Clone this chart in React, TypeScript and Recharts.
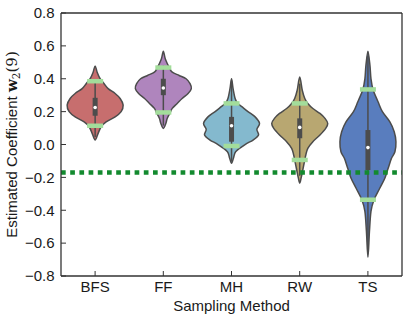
import React from "react";
import { Bar, ComposedChart, ReferenceLine, XAxis, YAxis } from "recharts";

const methods = ["BFS", "FF", "MH", "RW", "TS"];
const yTicks = [-0.8, -0.6, -0.4, -0.2, 0, 0.2, 0.4, 0.6, 0.8];
const trueValue = -0.17;

// estimated density profile of each violin (value, relative density)
const bfsLevels = [0.478, 0.44, 0.4, 0.37, 0.34, 0.31, 0.28, 0.24, 0.2, 0.168, 0.138, 0.108, 0.068, 0.027];
const bfsDensity = [0, 2, 5, 9, 13, 20, 25, 28, 26, 20, 11, 6, 3, 0];
const ffLevels = [0.567, 0.52, 0.468, 0.44, 0.42, 0.4, 0.37, 0.34, 0.31, 0.28, 0.25, 0.22, 0.195, 0.16, 0.128, 0.098];
const ffDensity = [0, 2, 6, 9, 16, 23, 27, 28.3, 25, 19, 14, 9, 7, 4, 2.5, 0];
const mhLevels = [0.4, 0.34, 0.28, 0.25, 0.23, 0.2, 0.168, 0.128, 0.092, 0.058, 0.027, 0.007, -0.01, -0.044, -0.08, -0.114];
const mhDensity = [0, 1.5, 3.5, 6, 10, 16, 23, 27.3, 24.7, 26.3, 21, 15, 11, 4, 2, 0];
const rwLevels = [0.41, 0.33, 0.28, 0.25, 0.219, 0.189, 0.159, 0.128, 0.098, 0.058, 0.017, -0.023, -0.064, -0.094, -0.155, -0.2, -0.235];
const rwDensity = [0, 2.5, 5, 8, 13, 20, 25, 27.7, 25.7, 20, 13, 8, 6, 5, 3, 1.5, 0];
const tsLevels = [0.567, 0.48, 0.4, 0.335, 0.26, 0.2, 0.138, 0.078, 0.017, -0.044, -0.084, -0.145, -0.205, -0.266, -0.336, -0.407, -0.528, -0.686];
const tsDensity = [0, 2, 3, 5, 10, 14.3, 21.7, 26, 27.7, 26.7, 23.3, 20, 16.7, 11.7, 6, 3, 1.5, 0];

const q1 = [0.175, 0.3, 0.017, 0.038, -0.155];
const medians = [0.225, 0.344, 0.114, 0.104, -0.019];
const q3 = [0.284, 0.4, 0.168, 0.159, 0.088];
const whiskerLo = [0.045, 0.115, -0.104, -0.19, -0.65];
const whiskerHi = [0.39, 0.48, 0.39, 0.37, 0.54];
const lowerMarks = [0.114, 0.195, -0.009, -0.094, -0.336];
const upperMarks = [0.385, 0.468, 0.25, 0.25, 0.335];

const colors = ["#c76e6e", "#af85bd", "#84b9ce", "#b8a771", "#597dbe"];

const allLevels = [bfsLevels, ffLevels, mhLevels, rwLevels, tsLevels];
const allDensity = [bfsDensity, ffDensity, mhDensity, rwDensity, tsDensity];

const data = methods.map((name, i) => ({
  name,
  range: [allLevels[i][allLevels[i].length - 1], allLevels[i][0]],
  levels: allLevels[i],
  density: allDensity[i],
  q1: q1[i],
  median: medians[i],
  q3: q3[i],
  whiskerLo: whiskerLo[i],
  whiskerHi: whiskerHi[i],
  lower: lowerMarks[i],
  upper: upperMarks[i],
  color: colors[i],
}));

const FONT = "'Liberation Sans', Arial, sans-serif";
const INK = "#333333";
const EDGE = "#4c4c4c";

function closedCurve(pts: number[][]) {
  const n = pts.length;
  let d = `M${pts[0][0]},${pts[0][1]}`;
  for (let i = 0; i < n; i++) {
    const p0 = pts[(i - 1 + n) % n];
    const p1 = pts[i];
    const p2 = pts[(i + 1) % n];
    const p3 = pts[(i + 2) % n];
    const c1x = p1[0] + (p2[0] - p0[0]) / 6;
    const c1y = p1[1] + (p2[1] - p0[1]) / 6;
    const c2x = p2[0] - (p3[0] - p1[0]) / 6;
    const c2y = p2[1] - (p3[1] - p1[1]) / 6;
    d += ` C${c1x},${c1y} ${c2x},${c2y} ${p2[0]},${p2[1]}`;
  }
  return d + "Z";
}

function ViolinShape(props: any) {
  const { x, y, width, height, payload } = props;
  const [lo, hi] = payload.range;
  const top = Math.min(y, y + height);
  const k = Math.abs(height) / (hi - lo);
  const toY = (v: number) => top + (hi - v) * k;
  const cx = x + width / 2;
  const half = width / 2;
  const maxD = Math.max(...payload.density);
  const right = payload.levels.map((v: number, j: number) => [cx + (payload.density[j] / maxD) * half, toY(v)]);
  const left = payload.levels.map((v: number, j: number) => [cx - (payload.density[j] / maxD) * half, toY(v)]).reverse();
  const loop = [...right, ...left.slice(1, -1)];
  return (
    <g>
      <path d={closedCurve(loop)} fill={payload.color} stroke={EDGE} strokeWidth={1.5} />
      <line x1={cx} x2={cx} y1={toY(payload.whiskerHi)} y2={toY(payload.whiskerLo)} stroke={EDGE} strokeWidth={1.5} />
      <line x1={cx} x2={cx} y1={toY(payload.q3)} y2={toY(payload.q1)} stroke={EDGE} strokeWidth={5} />
      <circle cx={cx} cy={toY(payload.median)} r={1.8} fill="#ffffff" />
      <line x1={cx - 8} x2={cx + 8} y1={toY(payload.upper)} y2={toY(payload.upper)} stroke="#a3dd9b" strokeWidth={4.5} />
      <line x1={cx - 8} x2={cx + 8} y1={toY(payload.lower)} y2={toY(payload.lower)} stroke="#a3dd9b" strokeWidth={4.5} />
    </g>
  );
}

const fmt = (v: number) => v.toFixed(1).replace("-", "\u2212");

function YLabel(props: any) {
  const { viewBox } = props;
  const cy = viewBox.y + viewBox.height / 2;
  const bx = 17.3;
  return (
    <text
      x={bx}
      y={cy}
      transform={`rotate(-90, ${bx}, ${cy})`}
      textAnchor="middle"
      fontFamily={FONT}
      fontSize={15}
      fill="#1a1a1a"
    >
      Estimated Coefficient{" "}
      <tspan fontFamily="'DejaVu Serif', serif" fontWeight="bold">w</tspan>
      <tspan fontFamily="'DejaVu Serif', serif" fontSize={10.5} dy={3}>2</tspan>
      <tspan fontFamily="'DejaVu Serif', serif" dy={-3}>(9)</tspan>
    </text>
  );
}

function XLabel(props: any) {
  const { viewBox } = props;
  return (
    <text
      x={viewBox.x + viewBox.width / 2}
      y={310.5}
      textAnchor="middle"
      fontFamily={FONT}
      fontSize={15}
      fill="#1a1a1a"
    >
      Sampling Method
    </text>
  );
}

export default function App() {
  return (
    <div style={{ position: "absolute", left: 0, top: 0 }}>
      <ComposedChart
        width={407}
        height={320}
        data={data}
        margin={{ top: 13, right: 5, bottom: 0, left: 0 }}
        barCategoryGap="9%"
      >
        <XAxis
          xAxisId="b"
          dataKey="name"
          type="category"
          height={44}
          tickSize={-5}
          tickMargin={10.75}
          stroke={INK}
          tick={{ fontFamily: FONT, fontSize: 15, fill: "#1a1a1a" }}
          axisLine={{ stroke: INK, strokeWidth: 1.3 }}
          tickLine={{ stroke: INK }}
          label={{ content: XLabel }}
        />
        <XAxis
          xAxisId="t"
          dataKey="name"
          type="category"
          orientation="top"
          mirror
          tickSize={5}
          tick={false}
          stroke={INK}
          axisLine={{ stroke: INK, strokeWidth: 1.3 }}
        />
        <YAxis
          yAxisId="l"
          type="number"
          domain={[-0.8, 0.8]}
          ticks={yTicks}
          width={61}
          tickSize={-5}
          tickMargin={11.5}
          tickFormatter={fmt}
          stroke={INK}
          tick={{ fontFamily: FONT, fontSize: 15, fill: "#1a1a1a" }}
          axisLine={{ stroke: INK, strokeWidth: 1.3 }}
          label={{ content: YLabel }}
        />
        <YAxis
          yAxisId="r"
          type="number"
          orientation="right"
          mirror
          domain={[-0.8, 0.8]}
          ticks={yTicks}
          tickSize={5}
          tick={false}
          stroke={INK}
          axisLine={{ stroke: INK, strokeWidth: 1.3 }}
        />
        <Bar
          xAxisId="b"
          yAxisId="l"
          dataKey="range"
          shape={ViolinShape}
          isAnimationActive={false}
        />
        <ReferenceLine
          xAxisId="b"
          yAxisId="l"
          y={trueValue}
          stroke="#138a2f"
          strokeWidth={4.5}
          strokeDasharray="4.7 4.5"
        />
      </ComposedChart>
    </div>
  );
}
